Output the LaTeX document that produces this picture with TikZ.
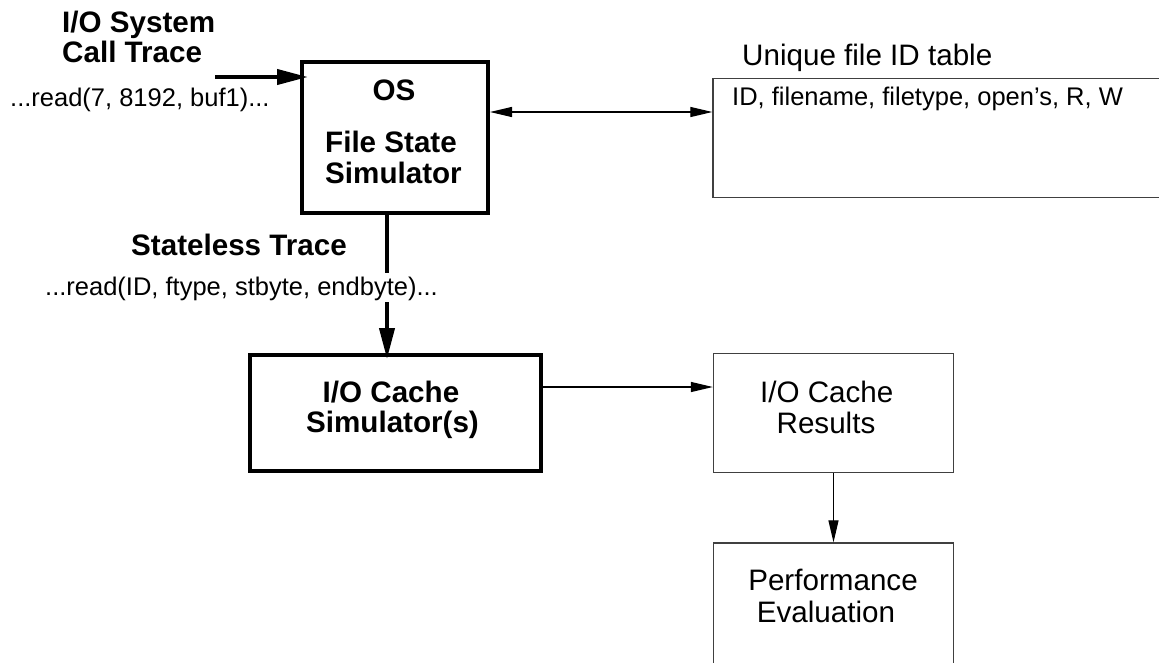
\documentclass[tikz,border=0pt]{standalone}
\usepackage{fontspec}
\setmainfont{Liberation Sans}
\usetikzlibrary{arrows.meta}
\newcommand\fbig{\fontsize{29.6}{34}\selectfont}
\newcommand\fsm{\fontsize{25.5}{30}\selectfont}
\tikzset{
  thickbox/.style={draw, line width=4pt, inner sep=0pt},
  thinbox/.style={draw=black!75, line width=1.3pt, inner sep=0pt},
  bigarrow/.style={line width=4pt, -{Triangle[length=31pt,width=15pt]}},
  thinarrow/.style={line width=1.2pt, -{Triangle[length=22pt,width=10pt]}},
  lbl/.style={anchor=base, inner sep=0pt},
  lblw/.style={anchor=base west, inner sep=0pt},
  bt/.style={font=\fbig\bfseries},
  nt/.style={font=\fbig},
  st/.style={font=\fsm},
}
\begin{document}
\begin{tikzpicture}[x=1pt,y=-1pt]
\clip (0,0) rectangle (1159,662);
\fill[white] (0,0) rectangle (1159,662);
% boxes
\node[thickbox, minimum width=186pt, minimum height=151pt] (os) at (395,137.5) {};
\node[thickbox, minimum width=291pt, minimum height=116pt] (cache) at (395.5,413) {};
\node[thinbox, minimum width=240pt, minimum height=119pt] (res) at (833.5,413) {};
\node[thinbox, minimum width=240pt, minimum height=140pt] (perf) at (833.5,613) {};
\node[thinbox, minimum width=470pt, minimum height=119pt] (tab) at (948,138) {};
% connectors
\coordinate (inA) at (215,77);
\draw[bigarrow, shorten >=-8pt] (inA) -- (inA -| os.west);
\draw[line width=1.2pt, {Triangle[length=22pt,width=10pt]}-{Triangle[length=22pt,width=10pt]}]
  ([yshift=25.5pt]os.east) -- ([yshift=25.5pt]os.east -| tab.west);
\draw[bigarrow, shorten >=-6pt] ([xshift=-8pt]os.south) -- ([xshift=-8pt]os.south |- cache.north);
\draw[thinarrow] ([yshift=26pt]cache.east) -- ([yshift=26pt]cache.east -| res.west);
\draw[thinarrow] (res.south) -- (perf.north);
% texts
\node[lblw, bt] (t1) at (62,32) {I/O System};
\node[lblw, bt] (t2) at (62,62) {Call Trace};
\node[lblw, st] (t3) at (10,106) {...read(7, 8192, buf1)...};
\node[lbl, bt] (os1) at (394,100) {OS};
\node[lbl, bt] (os2) at (391,152) {File State};
\node[lbl, bt] (os3) at (393.5,183) {Simulator};
\node[lbl, bt] (sl) at (239,255) {Stateless Trace};
\node[lbl, st, fill=white, text height=22pt, text depth=7pt] (sr) at (241.5,295) {...read(ID, ftype, stbyte, endbyte)...};
\node[lbl, bt] (c1) at (391,402) {I/O Cache};
\node[lbl, bt] (c2) at (392.5,432) {Simulator(s)};
\node[lblw, nt] (tt) at (742,65) {Unique file ID table};
\node[lblw, st] (tf) at (732,105) {ID, filename, filetype, open’s, R, W};
\node[lbl, nt] (r1) at (826.7,402) {I/O Cache};
\node[lbl, nt] (r2) at (826,433) {Results};
\node[lbl, nt] (p1) at (833,590) {Performance};
\node[lbl, nt] (p2) at (826,622) {Evaluation};
\end{tikzpicture}
\end{document}
